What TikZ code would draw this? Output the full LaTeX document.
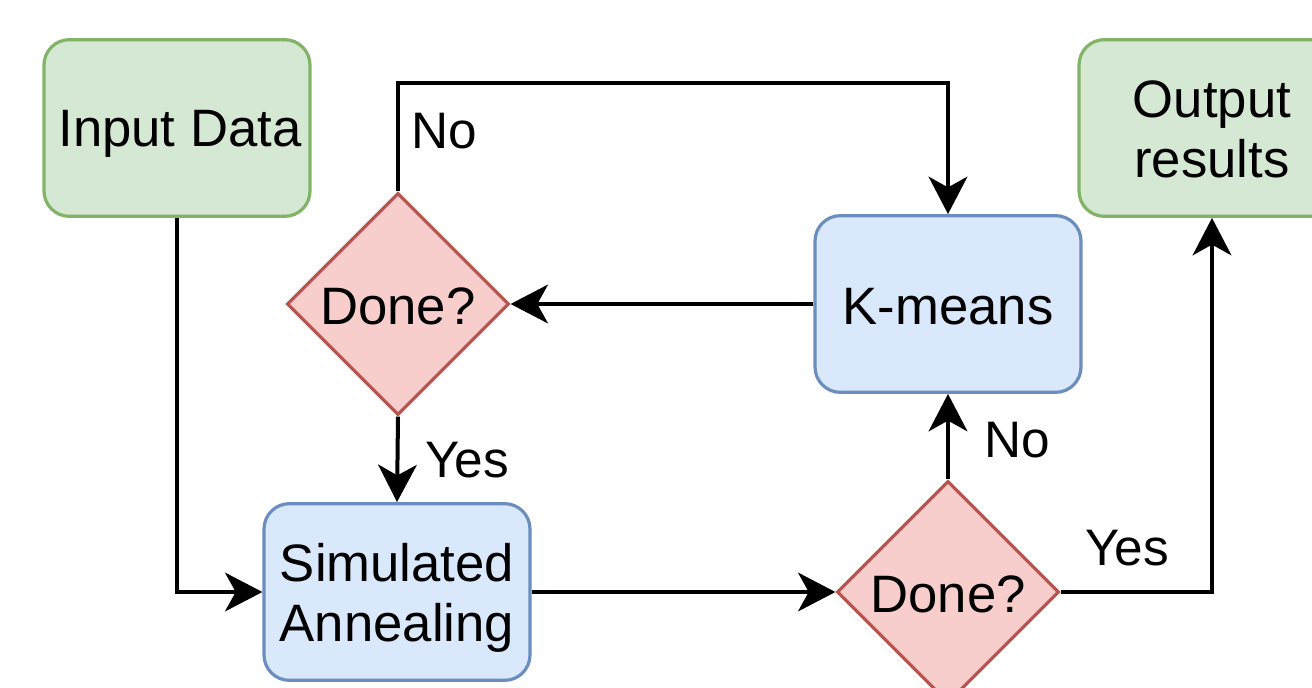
\documentclass[tikz,border=0pt]{standalone}
\usepackage{fontspec}
\setmainfont{Liberation Sans}
\usepackage{xcolor}
\usetikzlibrary{arrows.meta,shapes.geometric}
\definecolor{greenfill}{HTML}{D5E8D4}
\definecolor{greendraw}{HTML}{82B366}
\definecolor{bluefill}{HTML}{DAE8FC}
\definecolor{bluedraw}{HTML}{6C8EBF}
\definecolor{redfill}{HTML}{F8CECC}
\definecolor{reddraw}{HTML}{B85450}
\newcommand{\lowertext}[2][4pt]{\raisebox{-#1}[\height][\depth]{#2}}
\tikzset{
  basenode/.style={rectangle, rounded corners=19pt, line width=2.4pt,
    minimum width=199.5pt, minimum height=132.5pt, inner sep=0pt,
    font=\fontsize{39.5}{45}\selectfont, align=center},
  greennode/.style={basenode, draw=greendraw, fill=greenfill},
  bluenode/.style={basenode, draw=bluedraw, fill=bluefill},
  decisionnode/.style={diamond, aspect=1, draw=reddraw, fill=redfill, line width=2.4pt,
    minimum width=166.5pt, minimum height=166.5pt, inner sep=0pt,
    font=\fontsize{39.5}{45}\selectfont},
  normaledge/.style={-{Stealth[length=28pt, width=29pt, inset=8pt]}, draw=black, line width=3pt},
  edgelabel/.style={font=\fontsize{38.5}{44}\selectfont, inner sep=0pt},
}
\begin{document}
\begin{tikzpicture}[x=0.75pt, y=-0.75pt]
  \useasboundingbox (0,0) rectangle (1312,688);
  \node[greennode] (input) at (177,128) {\kern4.5pt\lowertext[4.5pt]{Input Data}};
  \node[greennode] (output) at (1212,128) {\lowertext[1pt]{Output}\\\lowertext[1pt]{results}};
  \node[decisionnode] (done1) at (398,304) {\lowertext[1.5pt]{Done?}};
  \node[bluenode] (kmeans) at (948,304) {\lowertext[2pt]{K-means}};
  \node[bluenode] (anneal) at (397,592) {\lowertext[4.5pt]{Simulated}\\\lowertext[4.5pt]{Annealing}};
  \node[decisionnode] (done2) at (948,592) {\lowertext[1.5pt]{Done?}};
  \coordinate (loop) at (670,83);
  \draw[normaledge] (input.south) |- (anneal.west);
  \draw[normaledge] (done1.south) -- (anneal.north);
  \draw[normaledge] (done1.north) |- (loop) -| (kmeans.north);
  \draw[normaledge] (kmeans.west) -- (done1.east);
  \draw[normaledge] (anneal.east) -- (done2.west);
  \draw[normaledge] (done2.north) -- (kmeans.south);
  \draw[normaledge] (done2.east) -| (output.south);
  \node[edgelabel] (lno1) at (444,131) {No};
  \node[edgelabel] (lyes1) at (467,460) {Yes};
  \node[edgelabel] (lno2) at (1017,440) {No};
  \node[edgelabel] (lyes2) at (1127,548) {Yes};
\end{tikzpicture}
\end{document}
